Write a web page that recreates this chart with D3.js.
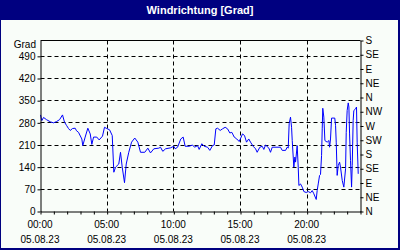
<!DOCTYPE html>
<html><head><meta charset="utf-8">
<script src="https://cdn.jsdelivr.net/npm/d3@7"></script>
<style>html,body{margin:0;padding:0;background:#f9fdf9;}svg{display:block;}</style>
</head><body>
<svg id="c" width="400" height="250"></svg>
<script>
const title = "Windrichtung [Grad]";
const yUnit = "Grad";
const leftTicks = [0, 70, 140, 210, 280, 350, 420, 490];
const rightTicks = [0, 45, 90, 135, 180, 225, 270, 315, 360, 405, 450, 495, 540];
const rightLabels = ["N", "NE", "E", "SE", "S", "SW", "W", "NW", "N", "NE", "E", "SE", "S"];
const xMajor = [0, 5, 10, 15, 20];
const xLabels = ["00:00", "05:00", "10:00", "15:00", "20:00"];
const dateLabel = "05.08.23";
const hours = [0.0,0.1,0.23,0.45,0.75,0.98,1.2,1.43,1.65,1.8,1.95,2.1,2.23,2.4,2.6,2.7,2.85,3.1,3.17,3.35,3.55,3.73,3.85,3.98,4.22,4.4,4.65,4.8,4.97,5.18,5.38,5.5,5.63,5.87,6.0,6.13,6.3,6.43,6.62,6.83,7.07,7.3,7.5,7.82,8.05,8.25,8.5,8.87,9.0,9.17,9.38,9.75,10.0,10.1,10.28,10.52,10.7,10.85,11.15,11.4,11.55,11.78,11.9,12.1,12.28,12.53,12.7,12.9,13.03,13.15,13.28,13.48,13.65,13.85,14.03,14.2,14.35,14.53,14.72,14.9,15.02,15.15,15.3,15.45,15.62,15.75,15.95,16.13,16.25,16.45,16.63,16.75,16.88,17.13,17.25,17.38,18.0,18.13,18.38,18.5,18.58,18.65,18.75,18.83,18.88,19.0,19.08,19.13,19.25,19.33,19.38,19.5,19.63,19.75,19.93,20.08,20.25,20.38,20.5,20.68,20.75,20.83,20.93,21.0,21.08,21.13,21.17,21.25,21.33,21.5,21.63,21.68,21.75,21.83,22.07,22.13,22.18,22.25,22.33,22.43,22.5,22.63,22.75,22.88,22.93,23.0,23.08,23.13,23.18,23.25,23.33,23.38,23.45,23.5,23.63,23.7,23.75,23.83];
const degrees = [305,287,297,290,283,280,284,290,305,282,272,262,256,262,263,255,250,229,208,235,263,245,212,235,235,226,238,266,262,258,240,124,140,150,187,140,91,150,187,219,232,219,187,187,200,185,198,200,203,190,198,201,206,198,203,229,235,206,206,210,203,208,196,214,206,203,193,208,210,261,263,256,261,266,261,248,250,235,229,221,232,245,240,219,229,219,206,198,187,203,206,196,210,200,187,203,203,193,193,203,200,277,298,266,224,140,172,156,208,140,82,87,77,63,60,63,59,66,56,38,66,87,114,117,177,261,326,298,224,219,224,203,229,295,295,271,219,114,145,156,140,98,77,135,250,319,343,330,245,161,77,145,287,319,324,330,219,119];

const svg = d3.select("#c");
const navy = "#000080";
const font = "'Liberation Sans', Arial, sans-serif";

// background + frame + title bar
svg.append("rect").attr("x",0).attr("y",0).attr("width",400).attr("height",250).attr("fill","#f9fdf9");
svg.append("rect").attr("x",0).attr("y",0).attr("width",1).attr("height",250).attr("fill",navy);
svg.append("rect").attr("x",398).attr("y",0).attr("width",2).attr("height",250).attr("fill",navy);
svg.append("rect").attr("x",0).attr("y",248).attr("width",400).attr("height",2).attr("fill",navy);
svg.append("rect").attr("x",0).attr("y",0).attr("width",400).attr("height",20).attr("fill",navy);
svg.append("text").attr("x",200).attr("y",14).attr("text-anchor","middle")
  .attr("fill","#fff").attr("font-family",font).attr("font-weight","bold").attr("font-size","11px").text(title);

const L = 40, R = 360, T = 40, B = 211;
const x = d3.scaleLinear().domain([0, 24]).range([L, R]);
const y = d3.scaleLinear().domain([0, 540]).range([B, T]);

const g = svg.append("g").attr("transform","translate(0.5,0.5)");

// grid
g.selectAll(".hg").data(leftTicks.filter(d => d > 0)).enter().append("line")
  .attr("x1", L).attr("x2", R).attr("y1", d => Math.round(y(d))).attr("y2", d => Math.round(y(d)))
  .attr("stroke","#000").attr("stroke-dasharray","4,3");
g.selectAll(".vg").data(xMajor.filter(d => d > 0)).enter().append("line")
  .attr("y1", T).attr("y2", B).attr("x1", d => Math.round(x(d))).attr("x2", d => Math.round(x(d)))
  .attr("stroke","#000").attr("stroke-dasharray","4,3");

// data line
g.append("path").datum(hours.map((h, i) => [h, degrees[i]]))
  .attr("fill","none").attr("stroke","#0000ff").attr("stroke-width",1)
  .attr("d", d3.line().x(d => x(d[0])).y(d => y(d[1])));

// top border
g.append("line").attr("x1",L).attr("x2",R).attr("y1",T).attr("y2",T).attr("stroke","#000");

// axes
const left = g.append("g").attr("transform",`translate(${L},0)`)
  .call(d3.axisLeft(y).tickValues(leftTicks).tickSize(3).tickSizeOuter(0).tickPadding(2));
const right = g.append("g").attr("transform",`translate(${R},0)`)
  .call(d3.axisRight(y).tickValues(rightTicks).tickSize(3).tickSizeOuter(0).tickPadding(2)
    .tickFormat((d, i) => rightLabels[i]));
const bottom = g.append("g").attr("transform",`translate(0,${B})`)
  .call(d3.axisBottom(x).tickValues(d3.range(0, 25)).tickSize(3).tickSizeOuter(0).tickFormat(""));
[left, right, bottom].forEach(a => {
  a.selectAll("text").attr("font-family",font).attr("font-size","10px").attr("fill","#000");
  a.selectAll("line,path").attr("stroke","#000");
});

svg.append("text").attr("x",36).attr("y",48).attr("text-anchor","end")
  .attr("font-family",font).attr("font-size","10px").text(yUnit);

const lab = svg.append("g");
xMajor.forEach((h, i) => {
  lab.append("text").attr("x", x(h)).attr("y", 228).attr("text-anchor","middle")
    .attr("font-family",font).attr("font-size","10px").text(xLabels[i]);
  lab.append("text").attr("x", x(h)).attr("y", 243).attr("text-anchor","middle")
    .attr("font-family",font).attr("font-size","10px").text(dateLabel);
});
</script>
</body></html>
